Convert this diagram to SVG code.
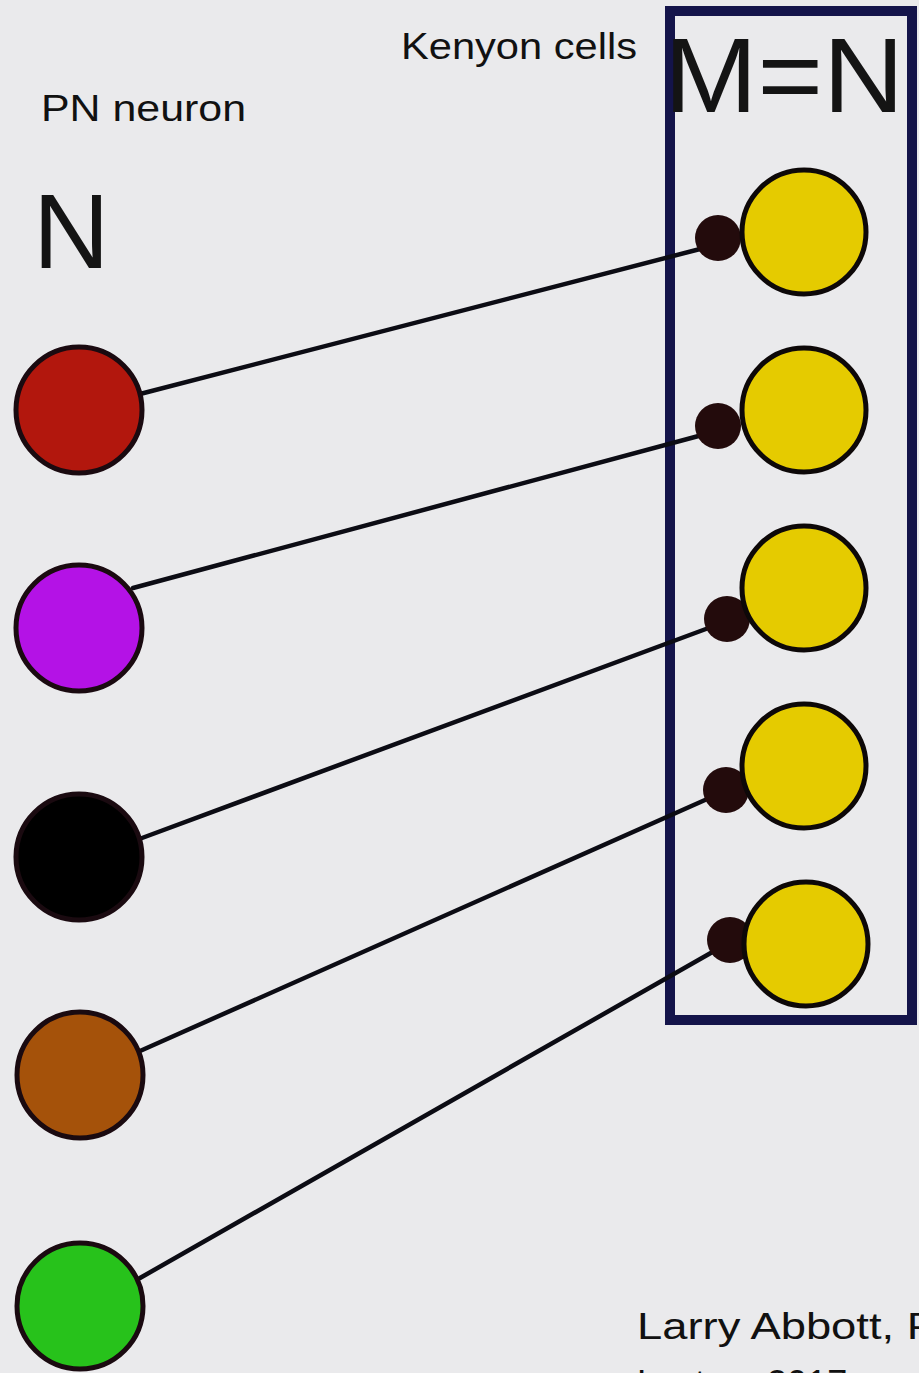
<svg xmlns="http://www.w3.org/2000/svg" width="919" height="1373" viewBox="0 0 919 1373">
  <style>
    .lbl { font-family: "Liberation Sans", Arial, sans-serif; font-size: 36px; fill: #111; }
    .big { font-family: "Liberation Sans", Arial, sans-serif; font-size: 106px; fill: #141414; }
    .pn { stroke: #1a0a10; stroke-width: 5; }
    .kc { fill: #e5cb00; stroke: #0d0808; stroke-width: 5; }
    .syn { fill: #230b0c; }
    .conn { stroke: #0c0c14; stroke-width: 4.5; stroke-linecap: round; fill: none; }
  </style>
  <rect width="919" height="1373" fill="#eaeaec"/>

  <g id="labels">
    <text class="lbl" x="401" y="59" textLength="236" lengthAdjust="spacingAndGlyphs">Kenyon cells</text>
    <text class="lbl" x="41" y="121" textLength="205" lengthAdjust="spacingAndGlyphs">PN neuron</text>
    <text class="big" x="33" y="268">N</text>
    <text class="lbl" x="637" y="1339" font-size="40" textLength="300" lengthAdjust="spacingAndGlyphs">Larry Abbott, P</text>
    <text class="lbl" x="637" y="1396" font-size="40">Lecture 2017</text>
  </g>

  <g id="kenyon-box">
    <rect x="670" y="11" width="242" height="1009" fill="none" stroke="#14144a" stroke-width="10"/>
    <text class="big" x="664" y="112" textLength="240" lengthAdjust="spacingAndGlyphs">M=N</text>
  </g>

  <g id="connectors">
    <line class="conn" x1="140" y1="394" x2="704" y2="248"/>
    <line class="conn" x1="133" y1="588" x2="706" y2="434"/>
    <line class="conn" x1="142" y1="838" x2="714" y2="626"/>
    <line class="conn" x1="140" y1="1051" x2="714" y2="796"/>
    <line class="conn" x1="140" y1="1278" x2="716" y2="950"/>
  </g>

  <g id="pn1"><circle class="pn" cx="79" cy="410" r="63" fill="#b2170d"/></g>
  <g id="pn2"><circle class="pn" cx="79" cy="628" r="63" fill="#b412e6"/></g>
  <g id="pn3"><circle class="pn" cx="79" cy="857" r="63" fill="#000000"/></g>
  <g id="pn4"><circle class="pn" cx="80" cy="1075" r="63" fill="#a5520a"/></g>
  <g id="pn5"><circle class="pn" cx="80" cy="1306" r="63" fill="#27c21b"/></g>

  <g id="kc1"><circle class="syn" cx="718" cy="238" r="23"/><circle class="kc" cx="804" cy="232" r="62"/></g>
  <g id="kc2"><circle class="syn" cx="718" cy="426" r="23"/><circle class="kc" cx="804" cy="410" r="62"/></g>
  <g id="kc3"><circle class="syn" cx="727" cy="619" r="23"/><circle class="kc" cx="804" cy="588" r="62"/></g>
  <g id="kc4"><circle class="syn" cx="726" cy="790" r="23"/><circle class="kc" cx="804" cy="766" r="62"/></g>
  <g id="kc5"><circle class="syn" cx="730" cy="940" r="23"/><circle class="kc" cx="806" cy="944" r="62"/></g>
</svg>
